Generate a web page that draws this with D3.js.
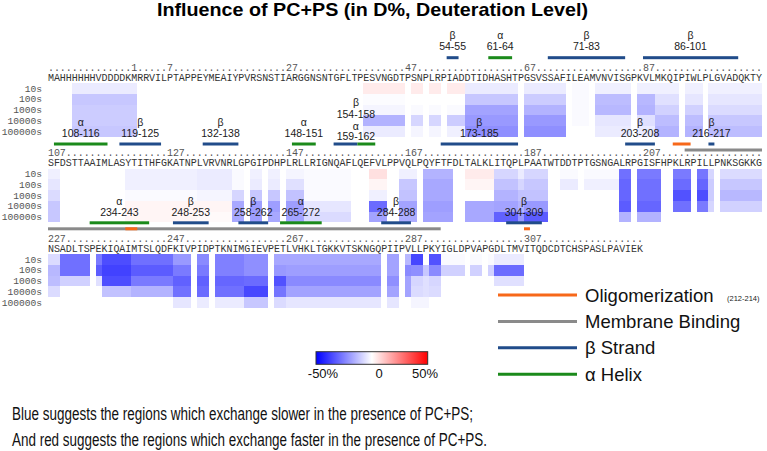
<!DOCTYPE html>
<html><head><meta charset="utf-8">
<script src="https://cdn.jsdelivr.net/npm/d3@7/dist/d3.min.js"></script>
<style>html,body{margin:0;padding:0;background:#fff}svg{display:block}
.mono{font-family:"Liberation Mono","DejaVu Sans Mono",monospace}
.sans{font-family:"Liberation Sans",Arial,sans-serif}</style>
</head><body><svg id="chart" width="767" height="451"></svg>
<script>
// ---------------- data ----------------
const title = "Influence of PC+PS (in D%, Deuteration Level)";
const timepoints = ["10s", "100s", "1000s", "10000s", "100000s"];
const sequenceRows = [
  "MAHHHHHHVDDDDKMRRVILPTAPPEYMEAIYPVRSNSTIARGGNSNTGFLTPESVNGDTPSNPLRPIADDTIDHASHTPGSVSSAFILEAMVNVISGPKVLMKQIPIWLPLGVADQKTY",
  "SFDSTTAAIMLASYTITHFGKATNPLVRVNRLGPGIPDHPLRLLRIGNQAFLQEFVLPPVQLPQYFTFDLTALKLITQPLPAATWTDDTPTGSNGALRPGISFHPKLRPILLPNKSGKKG",
  "NSADLTSPEKIQAIMTSLQDFKIVPIDPTKNIMGIEVPETLVHKLTGKKVTSKNGQPIIPVLLPKYIGLDPVAPGDLTMVITQDCDTCHSPASLPAVIEK"
];
const firstResidue = -13;
const rulerMarks = [1, 7, 27, 47, 67, 87, 107, 127, 147, 167, 187, 207, 227, 247, 267, 287, 307];

// peptides: [first residue, last residue]
const peptides = [
  [-9, 1], [40, 46], [48, 49], [51, 52], [54, 56], [57, 65], [67, 73], [75, 77], [79, 84], [86, 88], [89, 92], [94, 96], [98, 106],
  [107, 108], [120, 131], [132, 137], [138, 139], [141, 142], [144, 145], [147, 149], [150, 157], [161, 163], [166, 168],
  [170, 174], [177, 181], [182, 185], [186, 186], [187, 190], [193, 195], [197, 202], [203, 204], [206, 209], [212, 214],
  [216, 217], [218, 218], [220, 226],
  [227, 228], [229, 233], [235, 235], [236, 240], [241, 247], [248, 250], [252, 253], [255, 259], [260, 263], [265, 266],
  [267, 282], [284, 285], [287, 287], [288, 289], [290, 290], [291, 292], [293, 296], [298, 299], [301, 301], [302, 306]
];
// D% difference (PC+PS minus apo) for 10s, 100s, 1000s, 10000s, 100000s
const deltaD = [
  [-4, -11, -10, -10, -11], [4, -0.5, -2, -15, -4], [4, 0, -1, -8, -2], [4, 0, -1, -8, -2], [4, 0, -1, -10, -3],
  [-4, -11, -18, -20, -22], [-4, -10, -15, -20, -22], [-1, -1, -1, -1, null], [-3, -13, -14, -5, -4], [-3, -14, -15, -6, -4],
  [-3, -6, -9, -13, -15], [-3, -5, -9, -13, -15], [-3, -5, -7, -11, -13],
  [-3, -5, -7, -11, -11], [-3, -3, -1, 2, 2], [-4, -4, -2, 2, 1], [-1, -1, -8, -17, -17], [-3, -4, -11, -19, -19],
  [-3, -4, -11, -19, -17], [-2, -6, -12, -19, -18], [-1, -1, -1, -5, -7], [6, 2, -3, -29, -18], [-3, -11, -12, -18, -16],
  [-15, -17, -17, -19, -18], [4, 2, 0, -17, -17], [-8, -12, -15, -18, -31], [-4, -8, -12, -15, -20], [-8, -11, -12, -20, -32],
  [-1, -4, null, null, null], [-1, -3, null, null, null], [-28, -30, -30, -32, -15], [-26, -28, -28, -30, -15],
  [-26, -29, -34, -28, null], [-27, -30, -35, -26, null], [-8, -10, -10, -8, null], [-7, -11, -14, -9, null],
  [-7, -14, -13, -7, null], [-28, -28, -9, null, null], [-26, -32, -6, null, null], [-35, -37, -35, -12, null],
  [-28, -32, -26, -15, null], [-20, -26, -31, -28, -5], [-23, -26, -31, -29, -4], [-25, -25, -30, -28, -4],
  [-22, -22, -29, -36, -11], [-17, -20, -34, -27, -7], [-17, -19, -23, -18, -5], [-18, -18, -22, -18, -5],
  [-14, -23, -18, -18, null], [-36, -22, -8, -7, -2], [0, -11, -6, -6, -2], [-34, -23, -8, -7, null],
  [-1, -9, null, null, null], [-1, -9, null, null, null], [-1, -9, null, null, null], [-4, -29, -6, null, null]
];

// secondary structure: [label, first drawn residue, last drawn residue]
const strands = [
  ["54-55", 54, 55], ["71-83", 71, 83], ["86-101", 87, 102], ["119-125", 119, 125], ["132-138", 133, 138],
  ["154-158", 155, 158], ["173-185", 173, 185], ["203-208", 204, 208], ["216-217", 218, 218],
  ["248-253", 248, 253], ["258-262", 259, 263], ["284-288", 283, 287], ["304-309", 304, 309]
];
const helices = [
  ["61-64", 61, 64], ["108-116", 108, 116], ["148-151", 148, 151], ["159-162", 159, 161],
  ["234-243", 234, 243], ["265-272", 266, 272]
];
const oligomerization = [[212, 214], [240, 241], [307, 307]];
const membraneBinding = [[214, 292]];

const legendItems = [
  ["oligo", "Oligomerization", "(212-214)"],
  ["membrane", "Membrane Binding", ""],
  ["strand", "\u03b2 Strand", ""],
  ["helix", "\u03b1 Helix", ""]
];
const colorTicks = [-50, 0, 50];
const colorTickLabels = ["-50%", "0", "50%"];
const footnote = [
  "Blue suggests the regions which exchange slower in the presence of PC+PS;",
  "And red suggests the regions which exchange faster in the presence of PC+PS."
];

// ---------------- layout ----------------
const svg = d3.select("#chart");
const perRow = 120;
const x = d3.scaleLinear().domain([0, perRow]).range([48, 762]);
const colW = x(1) - x(0);
const blockY = d3.scaleLinear().domain([0, 1]).range([0, 85.5]);
const heatTop = 83;
const rowY = d3.scaleBand().domain(timepoints).range([0, 53.75]);
const color = d3.scaleLinear().domain([-50, 0, 50]).range(["#0000ff", "#ffffff", "#ff0000"]).clamp(true);
const bandY = [57.7, 144, 222.8];
const bandLabelBase = [49.5, 137.3, 216.3];
const typeColor = { oligo: "#f7681a", membrane: "#8a8a8a", strand: "#214c8a", helix: "#1b8a1b" };

const locate = r => { const g = r - firstResidue; return { b: Math.floor(g / perRow), c: g % perRow }; };
function split(s, e) {
  const out = []; let r = s;
  while (r <= e) {
    const p = locate(r);
    const end = Math.min(e, r + (perRow - 1 - p.c));
    out.push({ b: p.b, c0: p.c, c1: locate(end).c });
    r = end + 1;
  }
  return out;
}

// title
svg.append("text").attr("class", "sans").attr("x", 372.5).attr("y", 15.5)
  .attr("text-anchor", "middle").attr("font-size", 19).attr("font-weight", "bold")
  .attr("textLength", 431).attr("lengthAdjust", "spacingAndGlyphs").attr("fill", "#000").text(title);

// heatmap cells
const cells = [];
peptides.forEach((p, i) => {
  split(p[0], p[1]).forEach(sg => {
    timepoints.forEach((t, k) => {
      const v = deltaD[i][k];
      if (v === null || v === undefined) return;
      cells.push(Object.assign({}, sg, { t, v }));
    });
  });
});
svg.append("g").selectAll("rect").data(cells).join("rect")
  .attr("x", d => x(d.c0)).attr("width", d => x(d.c1 + 1) - x(d.c0))
  .attr("y", d => heatTop + blockY(d.b) + rowY(d.t)).attr("height", rowY.bandwidth())
  .attr("fill", d => color(d.v)).attr("shape-rendering", "crispEdges");

// sequence, ruler, row labels
sequenceRows.forEach((seq, b) => {
  const chars = seq.split("");
  const xs = chars.map((_, i) => x(i) + colW / 2).join(" ");
  const ruler = chars.map(() => ".");
  rulerMarks.forEach(m => {
    const p = locate(m);
    if (p.b !== b) return;
    String(m).split("").forEach((d, j) => { ruler[p.c + j] = d; });
  });
  svg.append("text").attr("class", "mono").attr("font-size", 10).attr("fill", "#555")
    .attr("x", xs).attr("y", 70.8 + blockY(b)).attr("text-anchor", "middle").text(ruler.join(""));
  svg.append("text").attr("class", "mono").attr("font-size", 10).attr("fill", "#333")
    .attr("x", xs).attr("y", 80.8 + blockY(b)).attr("text-anchor", "middle").text(seq);
  svg.append("g").selectAll("text").data(timepoints).join("text")
    .attr("class", "mono").attr("font-size", 9.6).attr("fill", "#555")
    .attr("x", 42).attr("text-anchor", "end")
    .attr("y", t => heatTop + blockY(b) + rowY(t) + rowY.bandwidth() / 2 + 3.3)
    .text(t => t);
});

// secondary structure bars
const ss = strands.map(d => ({ type: "strand", label: d[0], s: d[1], e: d[2], g: "\u03b2" }))
  .concat(helices.map(d => ({ type: "helix", label: d[0], s: d[1], e: d[2], g: "\u03b1" })));
ss.forEach(d => { d.segs = split(d.s, d.e); });
const bars = [];
membraneBinding.forEach(r => split(r[0], r[1]).forEach(sg => bars.push(Object.assign({ type: "membrane", lane: 1 }, sg))));
ss.forEach(d => d.segs.forEach(sg => bars.push(Object.assign({ type: d.type, lane: 0 }, sg))));
oligomerization.forEach(r => split(r[0], r[1]).forEach(sg => {
  const clash = ss.some(d => d.segs.some(q => q.b === sg.b && q.c0 <= sg.c1 && sg.c0 <= q.c1));
  bars.push(Object.assign({ type: "oligo", lane: clash ? 1 : 0 }, sg));
}));
svg.append("g").selectAll("rect").data(bars).join("rect")
  .attr("x", d => x(d.c0)).attr("width", d => x(d.c1 + 1) - x(d.c0))
  .attr("y", d => bandY[d.b] + d.lane * 6 - 1.5).attr("height", 3)
  .attr("fill", d => typeColor[d.type]);

// labels with simple stacking (range text baseline, greek letter above)
const labels = ss.map(d => {
  const sg = d.segs[0];
  return { b: sg.b, cx: (x(sg.c0) + x(sg.c1 + 1)) / 2, w: d.label.length * 5.8, label: d.label, g: d.g, dy: 0, gdy: -11 };
}).sort((a, b) => b.cx - a.cx);
const placed = [];
labels.forEach(l => {
  const hit = placed.find(o => o.b === l.b && o.dy === 0 && !o.stacked && Math.abs(o.cx - l.cx) < (o.w + l.w) / 2 + 2);
  if (hit) {
    const mid = (hit.cx + l.cx) / 2;
    hit.cx = mid; l.cx = mid; hit.stacked = true; l.stacked = true;
    hit.dy = 2.7; hit.gdy = -10.5;   // lower pair member
    l.dy = -19.3; l.gdy = -12.5;     // upper pair member
  }
  placed.push(l);
});
const lg = svg.append("g").attr("class", "sans").attr("font-size", 10.5).attr("fill", "#1a1a1a").attr("text-anchor", "middle");
lg.selectAll("text.rng").data(labels).join("text").attr("class", "rng")
  .attr("x", d => d.cx).attr("y", d => bandLabelBase[d.b] + d.dy).text(d => d.label);
lg.selectAll("text.grk").data(labels).join("text").attr("class", "grk")
  .attr("x", d => d.cx).attr("y", d => bandLabelBase[d.b] + d.dy + d.gdy).text(d => d.g);

// legend
const legY = d3.scalePoint().domain(legendItems.map(d => d[0])).range([295, 374.3]);
const leg = svg.append("g").attr("class", "sans");
leg.selectAll("line").data(legendItems).join("line")
  .attr("x1", 498).attr("x2", 577).attr("y1", d => legY(d[0])).attr("y2", d => legY(d[0]))
  .attr("stroke", d => typeColor[d[0]]).attr("stroke-width", 3);
leg.selectAll("text.lab").data(legendItems).join("text").attr("class", "lab")
  .attr("x", 585).attr("y", d => legY(d[0]) + 6.6).attr("font-size", 18.5).attr("fill", "#111").text(d => d[1]);
leg.selectAll("text.note").data(legendItems.filter(d => d[2])).join("text").attr("class", "note")
  .attr("x", 727).attr("y", d => legY(d[0]) + 6).attr("font-size", 7.5).attr("fill", "#222").text(d => d[2]);

// color bar
const defs = svg.append("defs");
const grad = defs.append("linearGradient").attr("id", "cbar");
d3.range(0, 1.0001, 0.1).forEach(f => {
  grad.append("stop").attr("offset", f).attr("stop-color", color(-50 + 100 * f));
});
const cbX = d3.scaleLinear().domain([-50, 50]).range([316, 427.7]);
svg.append("rect").attr("x", cbX(-50)).attr("y", 351.7).attr("width", cbX(50) - cbX(-50)).attr("height", 12.6)
  .attr("fill", "url(#cbar)").attr("stroke", "#333").attr("stroke-width", 1);
const cbLab = d3.scaleLinear().domain([-50, 0, 50]).range([323, 379, 425]);
svg.append("g").attr("class", "sans").selectAll("text").data(colorTicks).join("text")
  .attr("x", d => cbLab(d)).attr("y", 378).attr("text-anchor", "middle").attr("font-size", 13).attr("fill", "#111")
  .text((d, i) => colorTickLabels[i]);

// footnote
const fnWidths = [461, 475];
svg.append("g").attr("class", "sans").selectAll("text").data(footnote).join("text")
  .attr("x", 12).attr("y", (d, i) => 420 + i * 26).attr("font-size", 17.5).attr("fill", "#111")
  .attr("textLength", (d, i) => fnWidths[i]).attr("lengthAdjust", "spacingAndGlyphs").text(d => d);
</script></body></html>
